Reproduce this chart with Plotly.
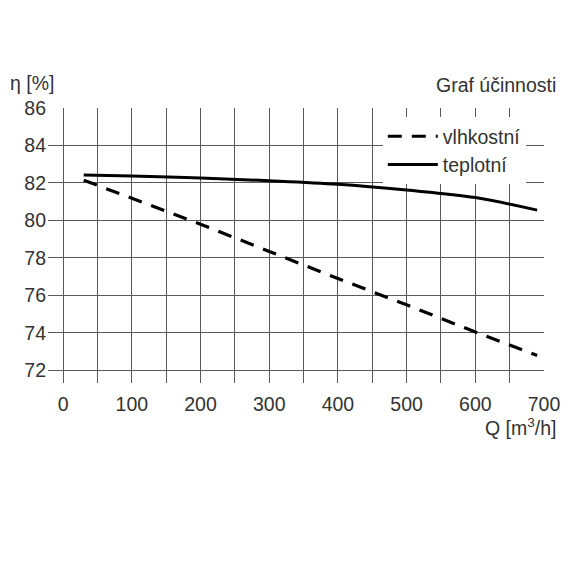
import plotly.graph_objects as go

# flow rate Q [m3/h] and efficiency eta [%]
q = [30, 100, 200, 300, 400, 500, 600, 690]
vlhkostni = [82.15, 81.2, 79.8, 78.35, 76.9, 75.5, 74.05, 72.8]
teplotni = [82.42, 82.37, 82.27, 82.12, 81.93, 81.62, 81.22, 80.55]

x_ticks = [0, 100, 200, 300, 400, 500, 600, 700]
y_ticks = [72, 74, 76, 78, 80, 82, 84, 86]

FONT = "Liberation Sans, Arial, sans-serif"
FS = 19.5
TXT = "#333333"
GRID = "#5a5a5a"

fig = go.Figure()
fig.add_trace(go.Scatter(x=q, y=vlhkostni, mode="lines", name="vlhkostní",
                         line=dict(color="black", width=3.2, dash="14px,10px")))
fig.add_trace(go.Scatter(x=q, y=teplotni, mode="lines", name="teplotní",
                         line=dict(color="black", width=3, shape="spline")))

# page body adds an 8px offset, margins compensate for it
fig.update_layout(
    width=576, height=576,
    margin=dict(l=40, r=40, t=100, b=201),
    paper_bgcolor="white", plot_bgcolor="white",
    font=dict(family=FONT, size=FS, color=TXT),
    showlegend=True,
    legend=dict(x=0.675, y=0.967, xanchor="left", yanchor="top",
                bgcolor="white", borderwidth=0, itemwidth=50,
                font=dict(family=FONT, size=FS, color=TXT), tracegroupgap=0),
    xaxis=dict(range=[-22, 700], tickvals=x_ticks, showgrid=True, gridcolor=GRID,
               gridwidth=1, zeroline=False, showline=False, ticks="",
               ticklabelstandoff=7,
               minor=dict(dtick=50, tick0=0, showgrid=True, gridcolor=GRID, gridwidth=1)),
    yaxis=dict(range=[71.33, 86], tickvals=y_ticks, showgrid=True, gridcolor=GRID,
               gridwidth=1, zeroline=False, showline=False, ticks="",
               ticklabelstandoff=1),
    annotations=[
        dict(text="Graf účinnosti", xref="paper", yref="paper", x=1, y=1,
             xanchor="right", yanchor="middle", xshift=14, yshift=23,
             showarrow=False, font=dict(family=FONT, size=FS, color=TXT)),
        dict(text="η [%]", xref="paper", yref="paper", x=0, y=1,
             xanchor="left", yanchor="middle", xshift=-40, yshift=25,
             showarrow=False, font=dict(family=FONT, size=FS, color=TXT)),
        dict(text="Q [m<sup>3</sup>/h]", xref="paper", yref="paper", x=1, y=0,
             xanchor="right", yanchor="middle", xshift=15, yshift=-44,
             showarrow=False, font=dict(family=FONT, size=FS, color=TXT)),
    ],
)

fig.write_html("out.html")
